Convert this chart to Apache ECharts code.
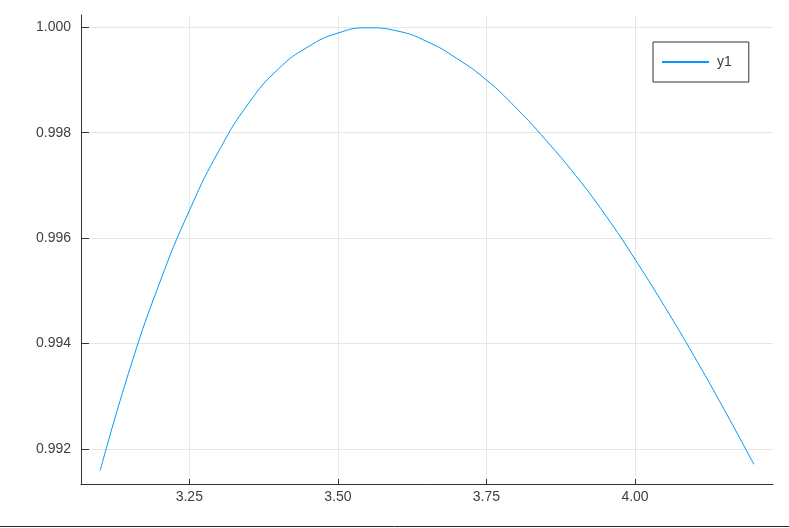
<!DOCTYPE html>
<html>
<head>
<meta charset="utf-8">
<script src="https://cdn.jsdelivr.net/npm/echarts@6/dist/echarts.min.js"></script>
<style>
html,body{margin:0;padding:0;background:#fff;}
#chart{width:789px;height:528px;}
</style>
</head>
<body>
<div id="chart"></div>
<script>
const seriesName = 'y1';
const xValues = [3.10, 3.15, 3.20, 3.25, 3.30, 3.35, 3.40, 3.45, 3.50, 3.55,
                 3.60, 3.65, 3.70, 3.75, 3.80, 3.85, 3.90, 3.95, 4.00, 4.05, 4.10, 4.15, 4.20];
const yValues = [0.99159, 0.99352, 0.99515, 0.99652, 0.99766, 0.99856, 0.99921, 0.99963, 0.99989, 0.99999,
                 0.99993, 0.99973, 0.99941, 0.99900, 0.99847, 0.99786, 0.99719, 0.99644, 0.99560, 0.99470, 0.99375, 0.99275, 0.99171];
const xTicks = [3.25, 3.50, 3.75, 4.00];
const yTicks = [0.992, 0.994, 0.996, 0.998, 1.000];

const data = xValues.map((x, i) => [x, yValues[i]]);
const font = "'Liberation Sans', Arial, sans-serif";
const chart = echarts.init(document.getElementById('chart'), null, {renderer: 'canvas'});
chart.setOption({
  animation: false,
  backgroundColor: '#ffffff',
  grid: {left: 81, top: 15, right: 16, bottom: 44, containLabel: false},
  legend: {
    show: true,
    data: [seriesName],
    left: 653, top: 42,
    orient: 'vertical',
    itemWidth: 47, itemHeight: 14,
    padding: [13, 17, 13, 8],
    borderColor: '#333333', borderWidth: 1,
    backgroundColor: '#ffffff',
    itemStyle: {opacity: 0},
    textStyle: {fontFamily: font, fontSize: 14, color: '#404040', padding: [0, 0, 0, 3]}
  },
  xAxis: {
    type: 'value',
    min: 3.06776, max: 4.23222,
    axisLine: {show: true, onZero: false, lineStyle: {color: '#333333', width: 1}},
    axisTick: {show: true, inside: true, length: 5, customValues: xTicks, lineStyle: {color: '#333333'}},
    axisLabel: {customValues: xTicks, margin: 6, fontFamily: font, fontSize: 14, color: '#404040',
      formatter: v => v.toFixed(2)},
    splitLine: {show: true, lineStyle: {color: '#e6e6e6', width: 1}}
  },
  yAxis: {
    type: 'value',
    min: 0.991336, max: 1.000233,
    axisLine: {show: true, onZero: false, lineStyle: {color: '#333333', width: 1}},
    axisTick: {show: true, inside: true, length: 8, customValues: yTicks, lineStyle: {color: '#333333'}},
    axisLabel: {customValues: yTicks, margin: 10, fontFamily: font, fontSize: 14, color: '#404040',
      formatter: v => v.toFixed(3)},
    splitLine: {show: true, lineStyle: {color: '#e6e6e6', width: 1}}
  },
  series: [{
    name: seriesName,
    type: 'line',
    data: data,
    smooth: true,
    symbol: 'none',
    lineStyle: {color: '#009afa', width: 1},
    itemStyle: {color: '#009afa'}
  }],
  graphic: [{
    type: 'line',
    shape: {x1: 0, y1: 526.5, x2: 789, y2: 526.5},
    style: {stroke: '#2a2a2a', lineWidth: 1},
    silent: true
  }]
});
</script>
</body>
</html>
